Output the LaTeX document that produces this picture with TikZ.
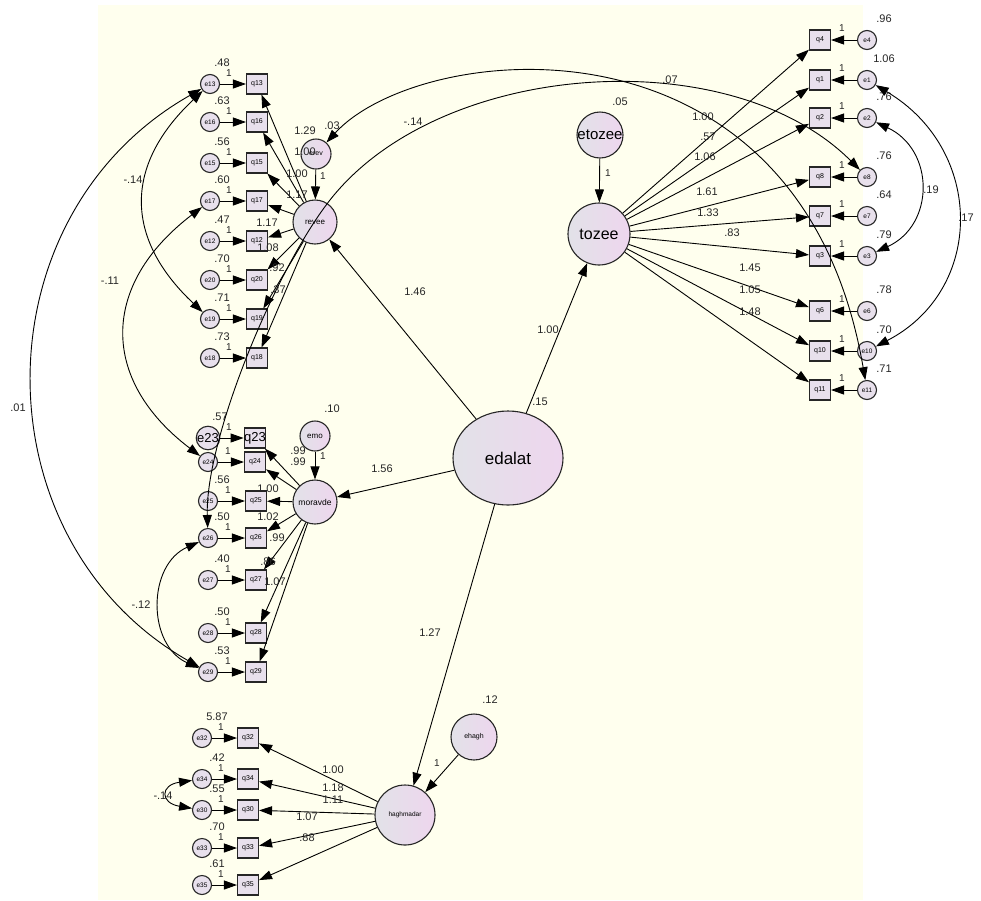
\documentclass[tikz,border=0pt]{standalone}
\usepackage{fontspec}
\setmainfont{Liberation Sans}
\usetikzlibrary{arrows.meta,shapes.geometric}
\definecolor{cream}{RGB}{255,255,238}
\definecolor{lav}{RGB}{232,224,236}
\definecolor{lavL}{RGB}{226,226,232}
\definecolor{lavR}{RGB}{238,214,238}
\tikzset{
  obs/.style={draw=black!85, line width=1.1pt, fill=lav, minimum width=21pt, minimum height=20pt, inner sep=0pt, font=\fontsize{7}{7}\selectfont},
  err/.style={circle, draw=black!85, line width=1.1pt, fill=lav, minimum size=19pt, inner sep=0pt, font=\fontsize{6.5}{6.5}\selectfont},
  lat/.style={circle, draw=black!85, line width=1.1pt, left color=lavL, right color=lavR, inner sep=0pt},
  lbl/.style={font=\fontsize{11}{11}\selectfont, inner sep=0pt, text=black!85},
  onelbl/.style={font=\fontsize{10}{10}\selectfont, inner sep=0pt, text=black!85},
  reg/.style={draw=black, line width=0.9pt, -{Triangle[length=13pt,width=9pt]}},
  cov/.style={draw=black, line width=0.9pt, {Triangle[length=13pt,width=9pt]}-{Triangle[length=13pt,width=9pt]}},
}
\begin{document}
\begin{tikzpicture}[x=1pt,y=-1pt]
\useasboundingbox (0,0) rectangle (981,900);
\fill[white] (0,0) rectangle (981,900);
\fill[cream] (98,5) rectangle (863,900);

% ---------- latent variables ----------
\node[lat, minimum size=44pt, font=\fontsize{8}{8}\selectfont] (revee) at (315,222) {revee};
\node[lat, minimum size=30pt, font=\fontsize{7}{7}\selectfont] (erev) at (316,154) {erev};
\node[lat, minimum size=44pt, font=\fontsize{8.5}{8.5}\selectfont] (moravde) at (315,502) {moravde};
\node[lat, minimum size=30pt, font=\fontsize{8}{8}\selectfont] (emo) at (315,436) {emo};
\node[lat, minimum size=62pt, font=\fontsize{16}{16}\selectfont] (tozee) at (599,234) {tozee};
\node[lat, minimum size=46pt, font=\fontsize{15}{15}\selectfont] (etozee) at (600,135) {etozee};
\node[lat, ellipse, minimum width=110pt, minimum height=94pt, font=\fontsize{17}{17}\selectfont] (edalat) at (508,458) {edalat};
\node[lat, minimum size=60pt, font=\fontsize{6.5}{6.5}\selectfont] (hagh) at (405,815) {haghmadar};
\node[lat, minimum size=46pt, font=\fontsize{7}{7}\selectfont] (ehagh) at (474,737) {ehagh};

% ---------- revee indicators ----------
\foreach \n/\y/\v in {13/84/.48, 16/122/.63, 15/163/.56, 17/201/.60, 12/241/.47, 20/280/.70, 19/319/.71, 18/358/.73}{
  \node[err] (e\n) at (210,\y) {e\n};
  \node[obs] (q\n) at (257,\y) {q\n};
  \draw[reg] (e\n) -- (q\n);
  \node[lbl] at (222,\y-21) {\v};
  \node[onelbl] at (229,\y-11) {1};
  \draw[reg] (revee) -- (q\n);
}

% ---------- moravde indicators ----------
\node[err, font=\fontsize{13}{13}\selectfont] (e23) at (208,438) {e23};
\node[obs, font=\fontsize{13}{13}\selectfont] (q23) at (255,438) {q23};
\draw[reg] (e23) -- (q23);
\node[lbl] at (220,417) {.57};
\node[onelbl] at (229,427) {1};
\draw[reg] (moravde) -- (q23);
\node[err] (e24) at (208,462) {e24};
\node[obs] (q24) at (255,462) {q24};
\draw[reg] (e24) -- (q24);
\node[onelbl] at (228,451) {1};
\draw[reg] (moravde) -- (q24);
\foreach \n/\y/\v in {25/501/.56, 26/538/.50, 27/580/.40, 28/633/.50, 29/672/.53}{
  \node[err] (e\n) at (208,\y) {e\n};
  \node[obs] (q\n) at (256,\y) {q\n};
  \draw[reg] (e\n) -- (q\n);
  \node[lbl] at (222,\y-21) {\v};
  \node[onelbl] at (228,\y-11) {1};
  \draw[reg] (moravde) -- (q\n);
}

% ---------- haghmadar indicators ----------
\foreach \n/\y/\v in {32/738/5.87, 34/779/.42, 30/810/.55, 33/848/.70, 35/885/.61}{
  \node[err] (e\n) at (202,\y) {e\n};
  \node[obs] (q\n) at (248,\y) {q\n};
  \draw[reg] (e\n) -- (q\n);
  \node[lbl] at (217,\y-21) {\v};
  \node[onelbl] at (221,\y-11) {1};
  \draw[reg] (hagh) -- (q\n);
}

% ---------- tozee indicators ----------
\foreach \n/\y/\v in {4/40/.96, 1/80/1.06, 2/118/.76, 8/177/.76, 7/216/.64, 3/256/.79, 6/311/.78, 10/351/.70, 11/390/.71}{
  \node[obs] (q\n) at (820,\y) {q\n};
  \node[err] (e\n) at (867,\y) {e\n};
  \draw[reg] (e\n) -- (q\n);
  \node[lbl] at (884,\y-21) {\v};
  \node[onelbl] at (842,\y-12) {1};
  \draw[reg] (tozee) -- (q\n);
}

% ---------- structural paths ----------
\draw[reg] (erev) -- (revee);
\draw[reg] (emo) -- (moravde);
\draw[reg] (etozee) -- (tozee);
\draw[reg] (ehagh) -- (hagh);
\draw[reg] (edalat) -- (revee);
\draw[reg] (edalat) -- (tozee);
\draw[reg] (edalat) -- (moravde);
\draw[reg] (edalat) -- (hagh);

% ---------- covariances ----------
\draw[cov] (e13) .. controls (124,165) and (124,238) .. (e19);
\draw[cov] (e17) .. controls (100,285) and (100,380) .. (e24);
\draw[cov] (e13) .. controls (-23,216) and (-23,540) .. (e29);
\draw[cov] (e26) .. controls (147,565) and (147,645) .. (e29);
\draw[cov] (e34) .. controls (160,785) and (160,803) .. (e30);
\draw[cov] (e1) .. controls (985,150) and (985,290) .. (e10);
\draw[cov] (e2) .. controls (935,150) and (935,225) .. (e3);
\draw[cov] (erev) .. controls (420,40) and (800,0) .. (e11);
\coordinate (mB) at (330,200);
\draw[cov] (e26) .. controls (205,440) and (275,270) .. (mB) .. controls (440,60) and (730,40) .. (e8);

% ---------- labels ----------
\node[lbl] at (133,180) {-.14};
\node[lbl] at (110,281) {-.11};
\node[lbl] at (18,408) {.01};
\node[lbl] at (141,605) {-.12};
\node[lbl] at (163,796) {-.14};
\node[lbl] at (966,218) {.17};
\node[lbl] at (931,190) {.19};
\node[lbl] at (413,122) {-.14};
\node[lbl] at (670,80) {.07};

\node[lbl] at (305,131) {1.29};
\node[lbl] at (332,126) {.03};
\node[lbl] at (305,152) {1.00};
\node[lbl] at (297,174) {1.00};
\node[onelbl] at (323,176) {1};
\node[lbl] at (297,195) {1.17};
\node[lbl] at (267,223) {1.17};
\node[lbl] at (268,248) {1.08};
\node[lbl] at (277,268) {.92};
\node[lbl] at (278,290) {.37};

\node[lbl] at (332,409) {.10};
\node[onelbl] at (323,456) {1};
\node[lbl] at (298,451) {.99};
\node[lbl] at (298,462) {.99};
\node[lbl] at (268,489) {1.00};
\node[lbl] at (268,517) {1.02};
\node[lbl] at (277,538) {.99};
\node[lbl] at (268,562) {.86};
\node[lbl] at (275,582) {1.07};

\node[lbl] at (620,102) {.05};
\node[onelbl] at (608,173) {1};
\node[lbl] at (703,117) {1.00};
\node[lbl] at (708,137) {.57};
\node[lbl] at (705,157) {1.06};
\node[lbl] at (707,192) {1.61};
\node[lbl] at (708,213) {1.33};
\node[lbl] at (732,233) {.83};
\node[lbl] at (750,268) {1.45};
\node[lbl] at (750,290) {1.05};
\node[lbl] at (750,312) {1.48};

\node[lbl] at (540,402) {.15};
\node[lbl] at (415,292) {1.46};
\node[lbl] at (548,330) {1.00};
\node[lbl] at (382,469) {1.56};
\node[lbl] at (430,633) {1.27};

\node[lbl] at (490,700) {.12};
\node[onelbl] at (437,763) {1};
\node[lbl] at (333,770) {1.00};
\node[lbl] at (333,788) {1.18};
\node[lbl] at (333,800) {1.11};
\node[lbl] at (307,817) {1.07};
\node[lbl] at (307,838) {.88};
\end{tikzpicture}
\end{document}
